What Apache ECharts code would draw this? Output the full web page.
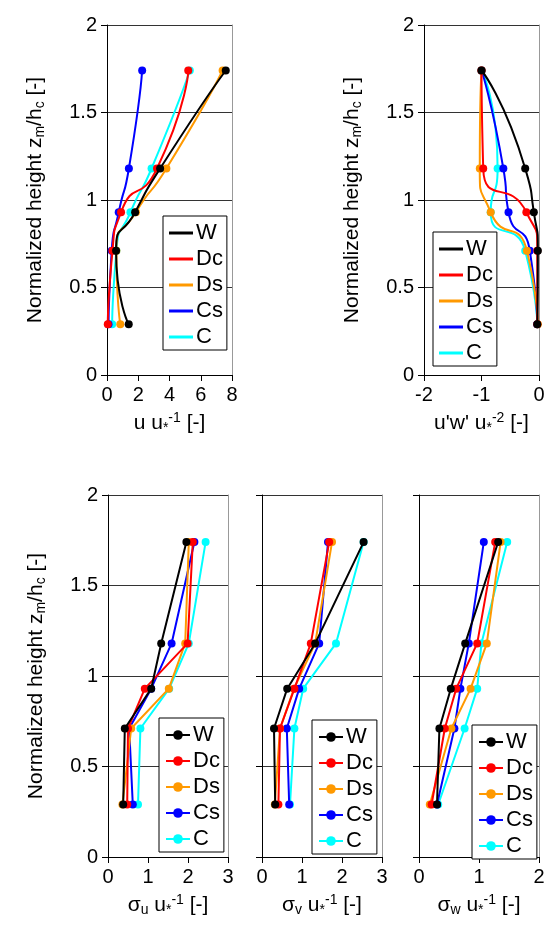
<!DOCTYPE html>
<html>
<head>
<meta charset="utf-8">
<script src="https://cdn.jsdelivr.net/npm/echarts@6/dist/echarts.min.js"></script>
<style>html,body{margin:0;padding:0;background:#fff}#main{width:550px;height:945px}</style>
</head>
<body>
<div id="main"></div>
<script>
var names = ['W', 'Dc', 'Ds', 'Cs', 'C'];
var colors = ['#000000', '#ff0000', '#ff9900', '#0000ff', '#00ffff'];
var heights = [0.29, 0.71, 0.93, 1.18, 1.74];

// mean wind u/u*
var uMean = [
  [1.39, 0.58, 1.8, 3.4, 7.6],
  [0.05, 0.35, 0.9, 3.2, 5.2],
  [0.85, 0.6, 1.85, 3.8, 7.4],
  [0.1, 0.3, 0.75, 1.4, 2.25],
  [0.33, 0.6, 1.5, 2.85, 5.3]
];
// momentum flux u'w'/u*^2
var uwFlux = [
  [-0.03, -0.02, -0.09, -0.24, -1.0],
  [-0.03, -0.03, -0.22, -0.97, -1.0],
  [-0.02, -0.21, -0.84, -1.03, -1.0],
  [-0.03, -0.16, -0.53, -0.62, -1.0],
  [-0.03, -0.24, -0.84, -0.72, -1.0]
];
var sigU = [
  [0.38, 0.42, 1.08, 1.33, 1.96],
  [0.48, 0.5, 0.92, 1.99, 2.12],
  [0.36, 0.58, 1.52, 1.93, 2.02],
  [0.62, 0.53, 1.08, 1.59, 2.16],
  [0.75, 0.81, 1.53, 2.02, 2.44]
];
var sigV = [
  [0.33, 0.3, 0.63, 1.33, 2.54],
  [0.41, 0.45, 0.81, 1.22, 1.68],
  [0.32, 0.45, 0.8, 1.33, 1.75],
  [0.68, 0.62, 0.93, 1.43, 1.65],
  [0.7, 0.81, 1.03, 1.85, 2.54]
];
var sigW = [
  [0.3, 0.34, 0.53, 0.77, 1.32],
  [0.21, 0.43, 0.62, 0.97, 1.27],
  [0.18, 0.54, 0.86, 1.13, 1.36],
  [0.3, 0.59, 0.69, 0.83, 1.08],
  [0.32, 0.76, 0.97, 1.04, 1.47]
];

var FONT = 'Liberation Sans';
var rich = {
  n: {fontSize: 21, fontFamily: FONT, color: '#000'},
  sub: {fontSize: 14, fontFamily: FONT, color: '#000', padding: [10, 0, 0, 0]},
  sup: {fontSize: 14, fontFamily: FONT, color: '#000', padding: [0, 0, 10, 0]}
};
var yName = '{n|Normalized height z}{sub|m}{n|/h}{sub|c}{n| [-]}';

var panels = [
  {l: 107, r: 232, t: 25, b: 375, min: 0, max: 8, iv: 2, data: uMean, smooth: true,
   xname: '{n|u u}{sub|*}{sup|-1}{n| [-]}', ylab: true, legend: [163, 216]},
  {l: 424, r: 539, t: 25, b: 375, min: -2, max: 0, iv: 1, data: uwFlux, smooth: true,
   xname: "{n|u'w' u}{sub|*}{sup|-2}{n| [-]}", ylab: true, legend: [433, 232]},
  {l: 108, r: 228, t: 495, b: 857, min: 0, max: 3, iv: 1, data: sigU, smooth: false,
   xname: '{n|σ}{sub|u}{n| u}{sub|*}{sup|-1}{n| [-]}', ylab: true, legend: [159, 718]},
  {l: 262, r: 382, t: 495, b: 857, min: 0, max: 3, iv: 1, data: sigV, smooth: false,
   xname: '{n|σ}{sub|v}{n| u}{sub|*}{sup|-1}{n| [-]}', ylab: false, legend: [312, 720]},
  {l: 419, r: 539, t: 495, b: 857, min: 0, max: 2, iv: 1, data: sigW, smooth: false,
   xname: '{n|σ}{sub|w}{n| u}{sub|*}{sup|-1}{n| [-]}', ylab: false, legend: [472, 725]}
];

var grid = [], xAxis = [], yAxis = [], series = [], legend = [];
panels.forEach(function (p, i) {
  grid.push({left: p.l, width: p.r - p.l, top: p.t, height: p.b - p.t});
  xAxis.push({
    type: 'value', gridIndex: i, min: p.min, max: p.max, interval: p.iv,
    name: p.xname, nameLocation: 'middle', nameGap: 36,
    nameTextStyle: {rich: rich},
    axisLine: {onZero: false, lineStyle: {color: '#000'}},
    axisTick: {show: true, length: 6, lineStyle: {color: '#000'}},
    axisLabel: {color: '#000', fontSize: 20, fontFamily: FONT, margin: 10},
    splitLine: {show: false}
  });
  yAxis.push({
    type: 'value', gridIndex: i, min: 0, max: 2, interval: 0.5,
    name: p.ylab ? yName : '', nameLocation: 'middle', nameGap: 60,
    nameTextStyle: {rich: rich},
    axisLine: {show: true, onZero: false, lineStyle: {color: '#000'}},
    axisTick: {show: true, length: 6, lineStyle: {color: '#000'}},
    axisLabel: {show: p.ylab, color: '#000', fontSize: 20, fontFamily: FONT, margin: 10},
    splitLine: {show: true, lineStyle: {color: '#333', width: 1}}
  });
  // right frame line
  yAxis.push({
    type: 'value', gridIndex: i, min: 0, max: 2, position: 'right',
    axisLine: {show: true, onZero: false, lineStyle: {color: '#999'}},
    axisTick: {show: false}, axisLabel: {show: false}, splitLine: {show: false}
  });
  var yi = yAxis.length - 2;
  names.forEach(function (nm, k) {
    series.push({
      name: nm, type: 'line', xAxisIndex: i, yAxisIndex: yi,
      smooth: p.smooth ? 0.7 : false,
      data: heights.map(function (h, j) { return [p.data[k][j], h]; }),
      symbol: 'circle', symbolSize: 8,
      lineStyle: {color: colors[k], width: 2},
      itemStyle: {color: colors[k]},
      z: 10 - k
    });
  });
  var lg = p.legend;
  legend.push({
    data: names, orient: 'vertical', left: lg[0], top: lg[1],
    itemGap: 4, itemWidth: 24, itemHeight: p.smooth ? 3 : 12,
    icon: p.smooth ? 'rect' : undefined,
    padding: [6, 4, 2, 6],
    borderColor: '#000', borderWidth: 1, backgroundColor: '#fff',
    textStyle: {fontSize: 22, fontFamily: FONT, color: '#000', padding: [0, 0, 0, -2]},
    selectedMode: false
  });
});

var chart = echarts.init(document.getElementById('main'));
chart.setOption({
  animation: false,
  grid: grid, xAxis: xAxis, yAxis: yAxis, series: series, legend: legend
});
</script>
</body>
</html>
